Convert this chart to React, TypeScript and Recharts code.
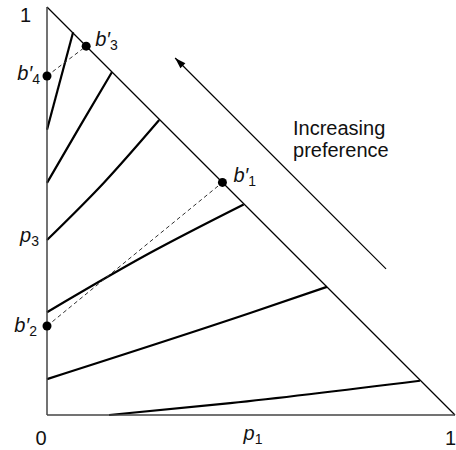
import React from "react";
import { ComposedChart, Line, Scatter, XAxis, YAxis, ReferenceDot } from "recharts";

type Pt = { x: number; y: number };

// axis ticks
const xTicks = [0, 0.5, 1];
const xTickLabels = ["0", "p1", "1"];
const yTicks = [0.429, 1];
const yTickLabels = ["p3", "1"];

// triangle edge
const hypotenuse: Pt[] = [
  { x: 0, y: 1 },
  { x: 1, y: 0 },
];

// indifference curves, top to bottom
const curve1: Pt[] = [
  { x: 0, y: 0.699 },
  { x: 0.064, y: 0.938 },
];
const curve2: Pt[] = [
  { x: 0, y: 0.569 },
  { x: 0.081, y: 0.708 },
  { x: 0.159, y: 0.84 },
];
const curve3: Pt[] = [
  { x: 0, y: 0.429 },
  { x: 0.14, y: 0.57 },
  { x: 0.275, y: 0.723 },
];
const curve4: Pt[] = [
  { x: 0, y: 0.252 },
  { x: 0.252, y: 0.397 },
  { x: 0.482, y: 0.516 },
];
const curve5: Pt[] = [
  { x: 0, y: 0.088 },
  { x: 0.498, y: 0.25 },
  { x: 0.686, y: 0.314 },
];
const curve6: Pt[] = [
  { x: 0.152, y: 0 },
  { x: 0.449, y: 0.029 },
  { x: 0.914, y: 0.084 },
];
const curves = [curve1, curve2, curve3, curve4, curve5, curve6];

// dashed chords
const chordB4B3: Pt[] = [
  { x: 0, y: 0.831 },
  { x: 0.096, y: 0.904 },
];
const chordB2B1: Pt[] = [
  { x: 0, y: 0.218 },
  { x: 0.43, y: 0.57 },
];

const bPoints = [
  { name: "1", x: 0.43, y: 0.57 },
  { name: "2", x: 0, y: 0.218 },
  { name: "3", x: 0.096, y: 0.904 },
  { name: "4", x: 0, y: 0.831 },
];

const arrowLine: Pt[] = [
  { x: 0.831, y: 0.358 },
  { x: 0.314, y: 0.875 },
];

const noteLines = ["Increasing", "preference"];
const notePos = { x: 0.603, y: 0.686 };

const FONT = "'Liberation Sans', Arial, Helvetica, sans-serif";
const FS = 20;

type Anchor = "start" | "middle" | "end";

const bLabelOffset: Record<string, { dx: number; dy: number; anchor: Anchor }> = {
  "1": { dx: 11, dy: 0, anchor: "start" },
  "2": { dx: -10, dy: 6, anchor: "end" },
  "3": { dx: 9, dy: 0, anchor: "start" },
  "4": { dx: -7, dy: 4, anchor: "end" },
};

const xTickOffset: Record<string, { dx: number; dy: number; anchor: Anchor }> = {
  "0": { dx: -6, dy: 30, anchor: "middle" },
  p1: { dx: 2, dy: 25, anchor: "middle" },
  "1": { dx: 1, dy: 30, anchor: "end" },
};
const yTickOffset: Record<string, { dx: number; dy: number }> = {
  p3: { dx: -8, dy: 2 },
  "1": { dx: -16, dy: 15 },
};

function SubLabel({ base, sub, italic }: { base: string; sub: string; italic: boolean }) {
  return (
    <>
      <tspan fontStyle={italic ? "italic" : "normal"}>{base}</tspan>
      <tspan fontSize={14} dy={4}>
        {sub}
      </tspan>
    </>
  );
}

function tickText(label: string) {
  if (label.startsWith("p")) return <SubLabel base="p" sub={label.slice(1)} italic />;
  return label;
}

function XTick(props: any) {
  const { x, y, payload } = props;
  const label = xTickLabels[xTicks.indexOf(payload.value)];
  const off = xTickOffset[label];
  return (
    <text x={x + off.dx} y={y + off.dy} textAnchor={off.anchor} fontFamily={FONT} fontSize={FS} fill="#111">
      {tickText(label)}
    </text>
  );
}

function YTick(props: any) {
  const { x, y, payload } = props;
  const label = yTickLabels[yTicks.indexOf(payload.value)];
  const off = yTickOffset[label];
  return (
    <text x={x + off.dx} y={y + off.dy} textAnchor="end" fontFamily={FONT} fontSize={FS} fill="#111">
      {tickText(label)}
    </text>
  );
}

function BDot(props: any) {
  const { cx, cy, payload } = props;
  const off = bLabelOffset[payload.name];
  return (
    <g>
      <circle cx={cx} cy={cy} r={4.5} fill="#000" />
      <text x={cx + off.dx} y={cy + off.dy} textAnchor={off.anchor} fontFamily={FONT} fontSize={FS} fill="#111">
        <tspan fontStyle="italic">b′</tspan>
        <tspan fontSize={14} dy={4}>
          {payload.name}
        </tspan>
      </text>
    </g>
  );
}

function ArrowHead(props: any) {
  const { cx, cy, index } = props;
  if (index !== arrowLine.length - 1) return <g key={`ah-${index}`} />;
  const a = arrowLine[0];
  const b = arrowLine[arrowLine.length - 1];
  const vx = b.x - a.x;
  const vy = -(b.y - a.y);
  const len = Math.hypot(vx, vy);
  const ux = vx / len;
  const uy = vy / len;
  const L = 11;
  const W = 3.5;
  const bx = cx - ux * L;
  const by = cy - uy * L;
  const pts = `${cx},${cy} ${bx - uy * W},${by + ux * W} ${bx + uy * W},${by - ux * W}`;
  return <polygon key={`ah-${index}`} points={pts} fill="#000" />;
}

function NoteLabel(props: any) {
  const vb = props.viewBox || {};
  const x = vb.x + (vb.width || 0) / 2;
  const y = vb.y + (vb.height || 0) / 2;
  return (
    <text x={x} y={y} fontFamily={FONT} fontSize={FS} fill="#111">
      {noteLines.map((t, i) => (
        <tspan key={t} x={x} dy={i === 0 ? 0 : 22}>
          {t}
        </tspan>
      ))}
    </text>
  );
}

export default function App() {
  return (
    <div style={{ position: "absolute", left: 0, top: 0, background: "#fff" }}>
      <ComposedChart width={456} height={450} margin={{ top: 7, right: 1, bottom: 0, left: 0 }}>
        <XAxis
          type="number"
          dataKey="x"
          domain={[0, 1]}
          ticks={xTicks}
          interval={0}
          tick={(p: any) => <XTick {...p} />}
          tickLine={false}
          tickSize={0}
          tickMargin={0}
          height={35}
          axisLine={{ stroke: "#444", strokeWidth: 1.5 }}
        />
        <YAxis
          type="number"
          dataKey="y"
          domain={[0, 1]}
          ticks={yTicks}
          interval={0}
          tick={(p: any) => <YTick {...p} />}
          tickLine={false}
          tickSize={0}
          tickMargin={0}
          width={47}
          axisLine={{ stroke: "#444", strokeWidth: 1.5 }}
        />
        <Line
          data={hypotenuse}
          dataKey="y"
          type="linear"
          stroke="#000"
          strokeWidth={1.3}
          dot={false}
          activeDot={false}
          isAnimationActive={false}
        />
        {curves.map((c, i) => (
          <Line
            key={`curve-${i}`}
            data={c}
            dataKey="y"
            type="monotone"
            stroke="#000"
            strokeWidth={2.2}
            dot={false}
            activeDot={false}
            isAnimationActive={false}
          />
        ))}
        <Line
          data={chordB4B3}
          dataKey="y"
          type="linear"
          stroke="#333"
          strokeWidth={1}
          strokeDasharray="4 3"
          dot={false}
          activeDot={false}
          isAnimationActive={false}
        />
        <Line
          data={chordB2B1}
          dataKey="y"
          type="linear"
          stroke="#333"
          strokeWidth={1}
          strokeDasharray="4 3"
          dot={false}
          activeDot={false}
          isAnimationActive={false}
        />
        <Line
          data={arrowLine}
          dataKey="y"
          type="linear"
          stroke="#000"
          strokeWidth={1.2}
          dot={(p: any) => <ArrowHead key={`ah-${p.index}`} {...p} />}
          activeDot={false}
          isAnimationActive={false}
        />
        <Scatter
          data={bPoints}
          dataKey="y"
          shape={(p: any) => <BDot {...p} />}
          isAnimationActive={false}
        />
        <ReferenceDot
          x={notePos.x}
          y={notePos.y}
          r={0}
          fill="none"
          stroke="none"
          label={(p: any) => <NoteLabel {...p} />}
        />
      </ComposedChart>
    </div>
  );
}
